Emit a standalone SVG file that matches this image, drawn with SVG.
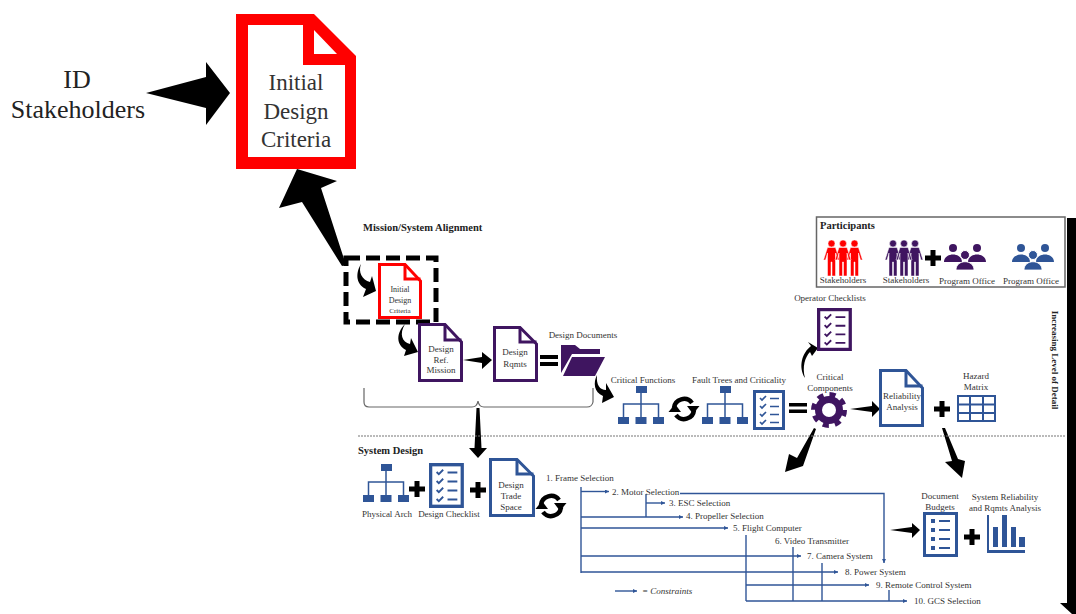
<svg xmlns="http://www.w3.org/2000/svg" xmlns:xlink="http://www.w3.org/1999/xlink" width="1076" height="614" viewBox="0 0 1076 614">
<style>
text{font-family:"Liberation Serif","Times New Roman",serif;fill:#333;font-size:9px}
.m{text-anchor:middle}
.b{font-weight:bold;fill:#222}
.t{font-size:10.500px}
.big{font-size:26px;fill:#222}
.mid{font-size:23px;fill:#333}
.doc{fill:#fff;stroke-width:3;stroke-linejoin:miter}
.fold{fill:none;stroke-width:3}
.red{stroke:#f00}.pur{stroke:#3f1560}.blu{stroke:#2f5597}
.k{fill:#000}
.c{fill:none;stroke:#2f5597;stroke-width:1.400}
.h{fill:#2f5597}
</style>
<defs>
<marker id="tip" markerWidth="5" markerHeight="5" refX="4" refY="2" orient="auto" markerUnits="userSpaceOnUse"><path d="M0 0L4 2L0 4Z" fill="#2f5597"/></marker>
<g id="tree"><path d="M5.500 31V18H40.500V31M23 7V31" fill="none" stroke="#2f5597" stroke-width="1.500"/><path class="h" d="M18 0H29V7H18ZM0 31H11V38H0ZM17.500 31H28.500V38H17.500ZM35 31H46V38H35Z"/></g>
<g id="sync"><path d="M-10-1A10 10 0 0 1 8-6" fill="none" stroke="#000" stroke-width="4.500"/><path class="k" d="M3-3H15.500L9 5Z"/><path d="M10 1A10 10 0 0 1-8 6" fill="none" stroke="#000" stroke-width="4.500"/><path class="k" d="M-3 3H-15.500L-9-5Z"/></g>
<g id="plus"><path class="k" d="M-2.500-8H2.500V-2.500H8V2.500H2.500V8H-2.500V2.500H-8V-2.500H-2.500Z"/></g>
<g id="check"><rect x="1.500" y="1.500" width="29" height="37" fill="#fff" stroke="currentColor" stroke-width="3"/><path d="M7 8l2 2 4-4M7 16l2 2 4-4M7 24l2 2 4-4M7 32l2 2 4-4" fill="none" stroke="currentColor" stroke-width="1.700"/><path d="M17 8.500H26M17 16.500H26M17 24.500H26M17 32.500H26" fill="none" stroke="currentColor" stroke-width="1.700"/></g>
<g id="person"><circle cx="8" cy="3.500" r="3.500"/><path d="M4 7.500H12L16 20H14L12 13V36H8.500V22H7.500V36H4V13L2 20H0Z"/></g>
<g id="group" fill="currentColor"><circle cx="9" cy="4" r="4"/><circle cx="33" cy="4" r="4"/><path d="M0 18C0 8 18 8 18 18ZM24 18C24 8 42 8 42 18Z"/><circle cx="21" cy="11" r="4.500" stroke="#fff"/><path d="M12 26C12 15 30 15 30 26Z" stroke="#fff" stroke-width=".8"/></g>
</defs>

<g id="connectors">
<path id="a-id" class="k" d="M146 93L206 77V62L230 93L206 125V108Z"/>
<path id="a-up" class="k" d="M297 169L337 181L321 188L346 265L342 266L302 202L279 208Z"/>
<path id="a-box" class="k" d="M361 264C358 272 362 280 370 282L372 276L376 291L363 297L366 289C355 284 356 272 361 264Z"/>
<path id="a-drm" class="k" d="M405 324C399 334 402 342 410 344L411 338L418 352L404 356L406 350C396 345 396 333 405 324Z"/>
<path id="a-rq" class="k" d="M463 360L482 357V352L492 360L482 369V363Z"/>
<path id="a-fold" class="k" d="M597 375C596 385 600 390 606 390L606 383L614 397L602 403L603 396C594 392 593 383 597 375Z"/>
<path id="a-op" class="k" d="M805 378C798 367 802 353 811 346L808 342L818 348L812 356L810 352C805 357 802 367 805 378Z"/>
<path id="a-rel" class="k" d="M850 409L872 406V401L880 409L872 417V412Z"/>
<path id="a-down1" class="k" d="M816 429L803 466L785 472L789 454L797 458L814 428Z"/>
<path id="a-down2" class="k" d="M942 428H945L958 459L965 461L962 478L945 462L952 461Z"/>
<path id="a-bud" class="k" d="M890 530L912 527V523L920 530L912 538V533Z"/>
<path id="a-sys" class="k" d="M476.500 408H479.500L481.500 448H487L478 458L469 448H474.500Z"/>
<path id="bracket" d="M364 388V402Q364 407 369 407H472Q477 407 478 401Q479 407 484 407H587Q592 407 593 402V388" fill="none" stroke="#666" stroke-width="1.200"/>
<path id="divider" d="M358 436H1066" stroke="#777" stroke-width="1.200" stroke-dasharray="2 1" fill="none"/>
<g id="constraints">
<path class="c" d="M581 487V573"/>
<path class="c" marker-end="url(#tip)" d="M581 491.500H609"/>
<path class="c" marker-end="url(#tip)" d="M680 493.500H884V563"/>
<path class="c" d="M646 494V517"/>
<path class="c" marker-end="url(#tip)" d="M646 503H665"/>
<path class="c" marker-end="url(#tip)" d="M581 517H683"/>
<path class="c" marker-end="url(#tip)" d="M581 528H728"/>
<path class="c" marker-end="url(#tip)" d="M581 556H801"/>
<path class="c" marker-end="url(#tip)" d="M581 572H838"/>
<path class="c" d="M746 535V601"/>
<path class="c" marker-end="url(#tip)" d="M746 601H907"/>
<path class="c" marker-end="url(#tip)" d="M746 585H869"/>
<path class="c" d="M793 547V601M822 563V601M889 590V601"/>
<path class="c" marker-end="url(#tip)" d="M615 591H637"/>
</g>
<path id="detail-bar" class="k" d="M1067 218H1076V614H1072L1060 603H1067Z"/>
</g>

<g id="stakeholders-label"><text class="big m" x="77" y="88">ID</text><text class="big m" x="78" y="118">Stakeholders</text></g>

<g id="big-doc">
<path fill="#f00" fill-rule="evenodd" d="M236 14H314L356 56V169H236ZM248 25V157H345V65H303V25ZM314 30V54H337Z"/>
<text class="mid m" x="296" y="90">Initial</text><text class="mid m" x="296" y="119">Design</text><text class="mid m" x="296" y="147">Criteria</text>
</g>

<g id="mission-title"><text class="b t" x="363" y="231">Mission/System Alignment</text></g>
<rect id="focus-box" x="346" y="258" width="90" height="64" fill="none" stroke="#000" stroke-width="5" stroke-dasharray="14 6"/>

<g id="small-doc">
<path class="doc red" d="M379.500 264.500H405L420.500 281V317.500H379.500Z"/><path class="fold red" d="M405 264.500V279H420.500"/>
<text class="m" x="400" y="292" style="font-size:8px">Initial</text><text class="m" x="400" y="303" style="font-size:8px">Design</text><text class="m" x="400" y="313" style="font-size:7px">Criteria</text>
</g>
<g id="drm">
<path class="doc pur" d="M419.500 324.500H445L461.500 342V380.500H419.500Z"/><path class="fold pur" d="M445 324.500V340H461.500"/>
<text class="m" x="441" y="352">Design</text><text class="m" x="441" y="363">Ref.</text><text class="m" x="441" y="373">Mission</text>
</g>
<g id="rqmts">
<path class="doc pur" d="M494.500 327.500H520L536.500 344V380.500H494.500Z"/><path class="fold pur" d="M520 327.500V342H536.500"/>
<text class="m" x="515" y="355">Design</text><text class="m" x="515" y="367">Rqmts</text>
</g>
<g id="equals-1"><path class="k" d="M540 355H558V359H540ZM540 362H558V366H540Z"/></g>
<g id="design-documents">
<path fill="#3f1560" d="M561 345H575L580 349H600V354H572L561 373ZM572 357H605L595 376H563Z"/>
<text class="m" x="583" y="338">Design Documents</text>
</g>

<g id="critical-functions"><use xlink:href="#tree" href="#tree" x="618" y="386"/><text class="m" x="643" y="383">Critical Functions</text></g>
<use id="sync-1" xlink:href="#sync" href="#sync" x="684" y="409"/>
<g id="fault-trees"><use xlink:href="#tree" href="#tree" x="702" y="386"/><text class="m" x="739" y="383">Fault Trees and Criticality</text></g>
<use id="fault-check" xlink:href="#check" href="#check" x="753" y="390" color="#2f5597"/>
<g id="equals-2"><path class="k" d="M789 403H807V406.500H789ZM789 409.500H807V413H789Z"/></g>
<g id="critical-components">
<circle cx="829" cy="410" r="14" fill="#3f1560"/>
<circle cx="829" cy="410" r="15.500" fill="none" stroke="#3f1560" stroke-width="5" stroke-dasharray="6.100 6.075"/>
<circle cx="829" cy="410" r="7" fill="#fff"/>
<text class="m" x="830" y="380">Critical</text><text class="m" x="830" y="391">Components</text>
</g>
<g id="operator-checklists"><use xlink:href="#check" href="#check" transform="translate(817 308) scale(1.090 1.075)" color="#3f1560"/><text class="m" x="830" y="301">Operator Checklists</text></g>
<g id="reliability">
<path class="doc blu" d="M880.500 370.500H906L922.500 388V425.500H880.500Z"/><path class="fold blu" d="M906 370.500V386H922.500"/>
<text class="m" x="902" y="399">Reliability</text><text class="m" x="902" y="410">Analysis</text>
</g>
<use id="plus-1" xlink:href="#plus" href="#plus" x="942" y="409"/>
<g id="hazard">
<path d="M958 396H995V421H958ZM958 404.500H995M958 413H995M970 396V421M983 396V421" fill="none" stroke="#2f5597" stroke-width="2"/>
<text class="m" x="976" y="379">Hazard</text><text class="m" x="976" y="390">Matrix</text>
</g>

<g id="participants">
<rect x="816.500" y="217" width="248.500" height="70" fill="#fff" stroke="#666" stroke-width="1.500"/>
<text class="b t" x="820" y="229">Participants</text>
<g fill="#f00" stroke="#fff" stroke-width=".5"><use xlink:href="#person" href="#person" x="823.500" y="240"/><use xlink:href="#person" href="#person" x="846.500" y="240"/><use xlink:href="#person" href="#person" x="835" y="240"/></g>
<g fill="#3f1560" stroke="#fff" stroke-width=".5"><use xlink:href="#person" href="#person" x="885" y="240"/><use xlink:href="#person" href="#person" x="907" y="240"/><use xlink:href="#person" href="#person" x="896" y="240"/></g>
<use xlink:href="#plus" href="#plus" x="933" y="258"/>
<use xlink:href="#group" href="#group" x="944" y="244" color="#3f1560"/>
<use xlink:href="#group" href="#group" x="1012" y="244" color="#2f5597"/>
<text class="m" x="843" y="283">Stakeholders</text><text class="m" x="906" y="283">Stakeholders</text><text class="m" x="967" y="284">Program Office</text><text class="m" x="1031" y="284">Program Office</text>
</g>
<g id="detail-label"><text class="b m" transform="translate(1052 360) rotate(90)">Increasing Level of Detail</text></g>

<g id="system-title"><text class="b t" x="358" y="454">System Design</text></g>
<g id="physical-arch"><use xlink:href="#tree" href="#tree" x="363" y="464"/><text class="m" x="387" y="517">Physical Arch</text></g>
<use id="plus-2" xlink:href="#plus" href="#plus" x="417" y="489"/>
<g id="design-checklist"><use xlink:href="#check" href="#check" transform="translate(429 463) scale(1.090 1.125)" color="#2f5597"/><text class="m" x="449" y="517">Design Checklist</text></g>
<use id="plus-3" xlink:href="#plus" href="#plus" x="478" y="490"/>
<g id="trade-space">
<path class="doc blu" d="M490.500 459.500H517L533.500 476V515.500H490.500Z"/><path class="fold blu" d="M517 459.500V474H533.500"/>
<text class="m" x="511" y="488">Design</text><text class="m" x="511" y="499">Trade</text><text class="m" x="511" y="510">Space</text>
</g>
<use id="sync-2" xlink:href="#sync" href="#sync" x="551" y="506"/>

<g id="selections">
<text x="546" y="481">1. Frame Selection</text>
<text x="612" y="495">2. Motor Selection</text>
<text x="669" y="506">3. ESC Selection</text>
<text x="686" y="519">4. Propeller Selection</text>
<text x="733" y="531">5. Flight Computer</text>
<text x="775" y="544">6. Video Transmitter</text>
<text x="807" y="559">7. Camera System</text>
<text x="845" y="575">8. Power System</text>
<text x="876" y="588">9. Remote Control System</text>
<text x="914" y="604">10. GCS Selection</text>
<text x="642" y="594" font-style="italic">= Constraints</text>
</g>

<g id="document-budgets">
<rect x="924.500" y="513.500" width="32" height="42" fill="#fff" stroke="#2f5597" stroke-width="3"/>
<path class="h" d="M931 519h4v4h-4zM931 528h4v4h-4zM931 537h4v4h-4zM931 546h4v4h-4zM939 520h11v2h-11zM939 529h11v2h-11zM939 538h11v2h-11zM939 547h11v2h-11z"/>
<text class="m" x="940" y="499">Document</text><text class="m" x="940" y="510">Budgets</text>
</g>
<use id="plus-4" xlink:href="#plus" href="#plus" x="972" y="537"/>
<g id="reliability-analysis">
<path class="h" d="M987 515H989V550H1025V553H987ZM993 527H998V547H993ZM1002 515H1007V547H1002ZM1011 527H1016V547H1011ZM1019 537H1025V547H1019Z"/>
<text class="m" x="1005" y="500">System Reliability</text><text class="m" x="1005" y="511">and Rqmts Analysis</text>
</g>
</svg>
